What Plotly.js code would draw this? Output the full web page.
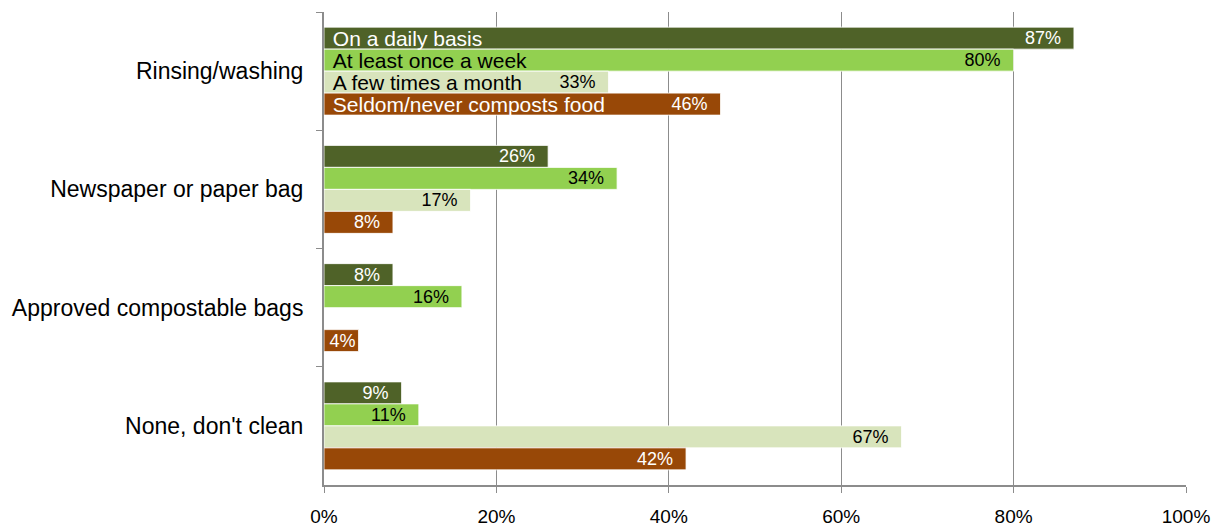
<!DOCTYPE html>
<html><head><meta charset="utf-8">
<script src="https://cdn.plot.ly/plotly-3.0.1.min.js"></script>
<style>html,body{margin:0;padding:0;background:#fff}#chart{width:1222px;height:527px}</style>
</head><body><div id="chart"></div>
<script>
const categories = ["Rinsing/washing", "Newspaper or paper bag", "Approved compostable bags", "None, don't clean"];
const seriesNames = ["On a daily basis", "At least once a week", "A few times a month", "Seldom/never composts food"];
const dailyValues = [87, 26, 8, 9];
const weeklyValues = [80, 34, 16, 11];
const monthlyValues = [33, 17, null, 67];
const seldomValues = [46, 8, 4, 42];
const xTickVals = [0, 20, 40, 60, 80, 100];
const xTickText = ["0%", "20%", "40%", "60%", "80%", "100%"];

const seriesValues = [dailyValues, weeklyValues, monthlyValues, seldomValues];
const colors = ["#4F6228", "#92D050", "#D8E4BC", "#984807"];
const textColors = ["#FFFFFF", "#000000", "#000000", "#FFFFFF"];
const FONT = "Liberation Sans, Arial, sans-serif";
const barW = 0.186;
const start = -2 * barW;
const NB = "\u00a0";

const traces = [];
seriesValues.forEach((vals, i) => {
  traces.push({
    type: "bar", orientation: "h",
    y: categories, x: vals,
    width: barW, offset: start + i * barW,
    marker: {color: colors[i], line: {color: "rgba(255,255,255,0.8)", width: 1}},
    text: vals.map(v => v == null ? "" : v + "%" + (v < 5 ? "" : NB + NB)),
    textposition: "inside", insidetextanchor: "end", textangle: 0,
    constraintext: "none",
    insidetextfont: {family: FONT, size: 18, color: textColors[i]},
    hoverinfo: "none", showlegend: false, cliponaxis: false
  });
});
// series names written inside the bars of the first category
seriesValues.forEach((vals, i) => {
  traces.push({
    type: "bar", orientation: "h",
    y: [categories[0]], x: [vals[0]],
    width: barW, offset: start + i * barW,
    marker: {color: "rgba(0,0,0,0)"},
    text: [NB + seriesNames[i]],
    textposition: "inside", insidetextanchor: "start", textangle: 0,
    constraintext: "none",
    insidetextfont: {family: FONT, size: 21, color: textColors[i]},
    hoverinfo: "none", showlegend: false, cliponaxis: false
  });
});

const layout = {
  width: 1222, height: 527,
  margin: {l: 324, r: 36, t: 12, b: 42},
  paper_bgcolor: "#fff", plot_bgcolor: "#fff",
  barmode: "overlay",
  font: {family: FONT, color: "#000"},
  xaxis: {
    range: [0, 100], tickvals: xTickVals, ticktext: xTickText,
    showgrid: true, gridcolor: "#8C8C8C", gridwidth: 1,
    showline: true, linecolor: "#8C8C8C", linewidth: 2,
    ticks: "outside", ticklen: 6, tickcolor: "#8C8C8C",
    tickfont: {family: FONT, size: 19, color: "#000"},
    ticklabelstandoff: 7,
    zeroline: false, fixedrange: true
  },
  yaxis: {
    type: "category", autorange: "reversed",
    showline: true, linecolor: "#8C8C8C", linewidth: 2,
    ticks: "outside", ticklen: 6, tickcolor: "#8C8C8C", tickson: "boundaries",
    tickfont: {family: FONT, size: 23, color: "#000"},
    ticklabelstandoff: 14,
    showgrid: false, zeroline: false, fixedrange: true
  }
};
Plotly.newPlot("chart", traces, layout, {displayModeBar: false, staticPlot: true});
</script></body></html>
